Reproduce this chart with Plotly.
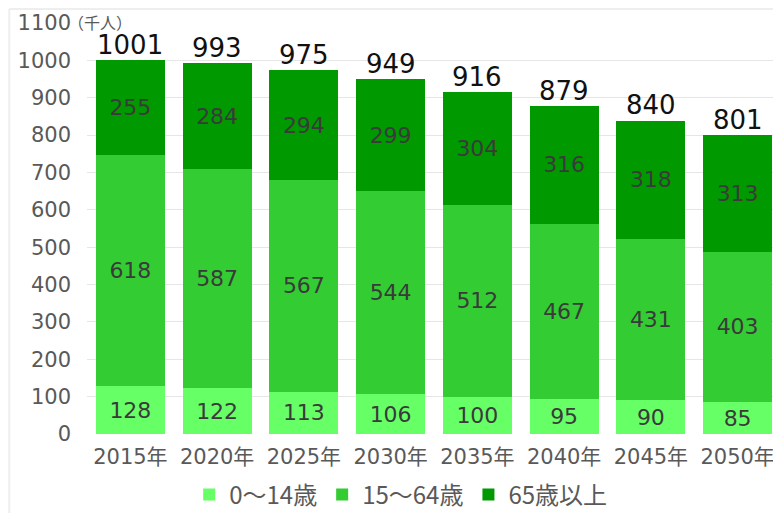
import plotly.graph_objects as go

years = ["2015年", "2020年", "2025年", "2030年", "2035年", "2040年", "2045年", "2050年"]
age_0_14 = [128, 122, 113, 106, 100, 95, 90, 85]
age_15_64 = [618, 587, 567, 544, 512, 467, 431, 403]
age_65_up = [255, 284, 294, 299, 304, 316, 318, 313]
totals = [1001, 993, 975, 949, 916, 879, 840, 801]
series_names = ["0～14歳", "15～64歳", "65歳以上"]
colors = ["#66FF66", "#33CC33", "#009900"]
y_ticks = list(range(0, 1101, 100))

FONT = "DejaVu Sans, Noto Sans CJK JP"

fig = go.Figure()
for name, vals, col in zip(series_names, [age_0_14, age_15_64, age_65_up], colors):
    fig.add_trace(go.Bar(
        x=years, y=vals, name=name,
        marker=dict(color=col, line=dict(width=0)),
        text=[str(v) for v in vals],
        textposition="inside", insidetextanchor="middle", textangle=0,
        textfont=dict(family=FONT, size=22, color="#3a3a3a"),
        hoverinfo="skip",
    ))

for yr, tot in zip(years, totals):
    fig.add_annotation(
        x=yr, y=tot, xref="x", yref="y", text=str(tot), showarrow=False,
        xanchor="center", yanchor="bottom", yshift=-2,
        font=dict(family=FONT, size=26, color="#111111"),
    )

fig.add_annotation(
    text="（千人）", xref="paper", yref="y", x=-0.03, y=1100,
    xanchor="left", yanchor="middle", yshift=1, showarrow=False,
    font=dict(family="Noto Sans CJK JP", size=16, color="#595959"),
)

# faint outer frame
fig.add_shape(type="line", xref="paper", yref="paper",
              x0=-0.112, x1=1.0, y0=1.034, y1=1.034,
              line=dict(color="#eeeeee", width=2))
fig.add_shape(type="line", xref="paper", yref="paper",
              x0=-0.112, x1=-0.112, y0=1.034, y1=-0.2,
              line=dict(color="#eeeeee", width=2))

fig.update_layout(
    width=773, height=505,
    template="none",
    barmode="stack", bargap=0.205,
    paper_bgcolor="white", plot_bgcolor="white",
    margin=dict(l=79, r=0, t=15, b=79, autoexpand=False),
    font=dict(family=FONT, color="#595959"),
    showlegend=True,
    legend=dict(
        orientation="h", x=0.452, xanchor="center", y=-0.148, yanchor="middle",
        font=dict(family="Noto Sans CJK JP", size=24, color="#595959"),
        traceorder="normal", itemwidth=30,
    ),
    xaxis=dict(
        showgrid=False, zeroline=False, showline=False, automargin=False,
        tickfont=dict(family=FONT, size=21, color="#595959"),
        ticks="", ticklabelstandoff=8,
    ),
    yaxis=dict(
        range=[0, 1100], tickvals=y_ticks, automargin=False,
        showgrid=True, gridcolor="#e6e6e6", gridwidth=1,
        zeroline=False, showline=False,
        tickfont=dict(family=FONT, size=21, color="#595959"),
        ticks="", ticklabelstandoff=15,
    ),
)

fig.write_html("out.html")
